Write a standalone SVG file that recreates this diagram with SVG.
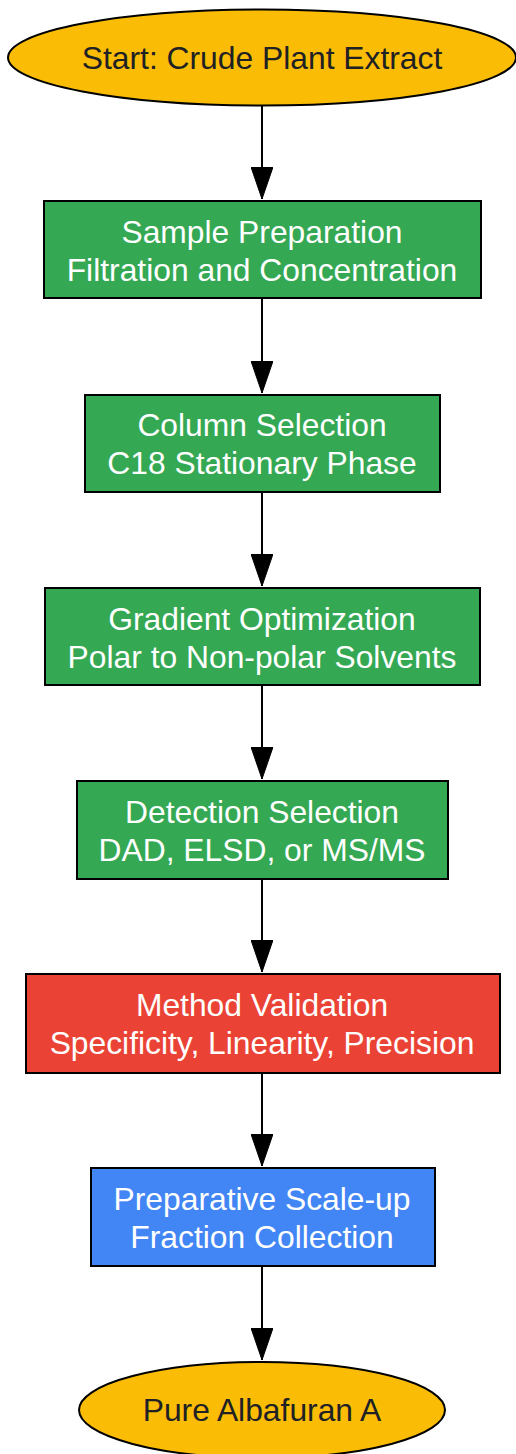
<svg xmlns="http://www.w3.org/2000/svg" width="516" height="1454" viewBox="0 0 516 1454">
<style>
text{font-family:"Liberation Sans",Arial,sans-serif;font-size:31.8px;text-anchor:middle}
.n{stroke:#000;stroke-width:2}
.y{fill:#FBBC05}.g{fill:#34A853}.r{fill:#EA4335}.b{fill:#4285F4}
.dk{fill:#202124}.wt{fill:#fff}
.e{stroke:#000;stroke-width:2;fill:none;marker-end:url(#ah)}
</style>
<defs>
<marker id="ah" viewBox="0 0 32 22" markerUnits="userSpaceOnUse" markerWidth="32" markerHeight="22" refX="32" refY="11" orient="auto">
<path d="M0,0 L32,11 L0,22 z" fill="#000" stroke="#000" stroke-width="1"/>
</marker>
</defs>
<rect width="516" height="1454" fill="#fff"/>
<g id="edges">
<path class="e" d="M262,106 V199"/>
<path class="e" d="M262,299 V393"/>
<path class="e" d="M262,492 V586"/>
<path class="e" d="M262,685 V779"/>
<path class="e" d="M262,879 V972"/>
<path class="e" d="M262,1073 V1166"/>
<path class="e" d="M262,1266 V1360"/>
</g>
<g id="start">
<ellipse class="n y" cx="262" cy="57.5" rx="254" ry="48"/>
<text class="dk" x="262" y="69">Start: Crude Plant Extract</text>
</g>
<g id="prep">
<rect class="n g" x="44" y="201" width="437" height="97"/>
<text class="wt" x="262" y="243">Sample Preparation</text>
<text class="wt" x="262" y="281">Filtration and Concentration</text>
</g>
<g id="column">
<rect class="n g" x="85" y="395" width="355" height="97"/>
<text class="wt" x="262" y="436">Column Selection</text>
<text class="wt" x="262" y="474">C18 Stationary Phase</text>
</g>
<g id="gradient">
<rect class="n g" x="45" y="588" width="435" height="97"/>
<text class="wt" x="262" y="630">Gradient Optimization</text>
<text class="wt" x="262" y="668">Polar to Non-polar Solvents</text>
</g>
<g id="detection">
<rect class="n g" x="77" y="781" width="371" height="98"/>
<text class="wt" x="262" y="823">Detection Selection</text>
<text class="wt" x="262" y="861">DAD, ELSD, or MS/MS</text>
</g>
<g id="validation">
<rect class="n r" x="26" y="974" width="474" height="99"/>
<text class="wt" x="262" y="1016">Method Validation</text>
<text class="wt" x="262" y="1054">Specificity, Linearity, Precision</text>
</g>
<g id="scaleup">
<rect class="n b" x="91" y="1168" width="344" height="98"/>
<text class="wt" x="262" y="1210">Preparative Scale-up</text>
<text class="wt" x="262" y="1248">Fraction Collection</text>
</g>
<g id="end">
<ellipse class="n y" cx="262" cy="1410" rx="183" ry="48"/>
<text class="dk" x="262" y="1421">Pure Albafuran A</text>
</g>
</svg>
